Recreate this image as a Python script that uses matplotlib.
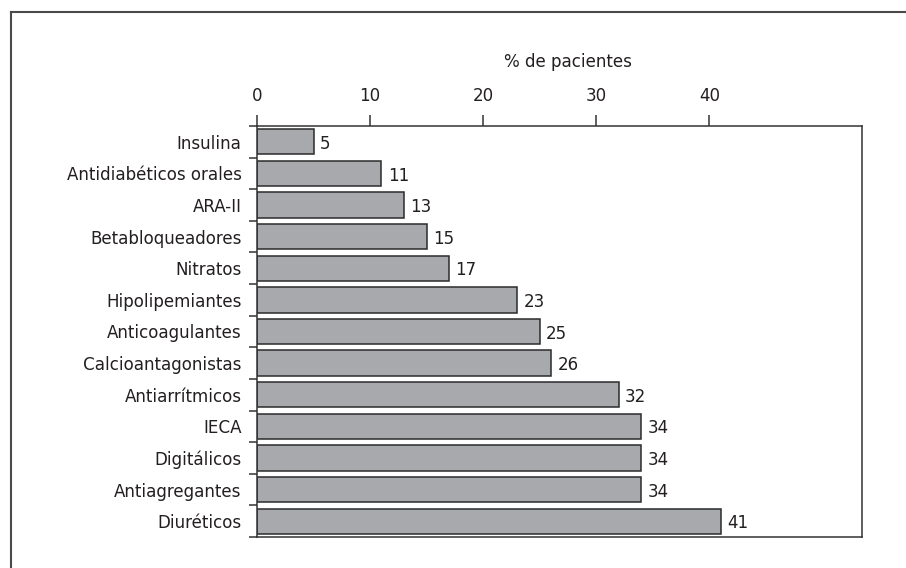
import matplotlib
matplotlib.use("Agg")
import matplotlib.pyplot as plt
from matplotlib.lines import Line2D

# data, top to bottom as in the figure
farmacos = ["Insulina", "Antidiabéticos orales", "ARA-II", "Betabloqueadores",
            "Nitratos", "Hipolipemiantes", "Anticoagulantes", "Calcioantagonistas",
            "Antiarrítmicos", "IECA", "Digitálicos", "Antiagregantes", "Diuréticos"]
porcentaje = [5, 11, 13, 15, 17, 23, 25, 26, 32, 34, 34, 34, 41]
x_ticks = [0, 10, 20, 30, 40]
x_title = "% de pacientes"

# condensed sans, closest to the narrow font in the original
plt.rcParams['font.family'] = ['DejaVu Sans']
plt.rcParams['font.stretch'] = 'condensed'
text_color = '#231f20'

fig = plt.figure(figsize=(9.06, 5.68), dpi=100)
ax = fig.add_axes([257 / 906, 1 - 537 / 568, (862 - 257) / 906, (537 - 126) / 568])

pos = list(range(len(farmacos)))
ax.barh(pos, porcentaje, height=0.8, color='#a7a9ac', edgecolor='#2b2b2b', linewidth=1.1)

for p, v in zip(pos, porcentaje):
    ax.annotate(str(v), (v, p), xytext=(4.5, -1.5), textcoords='offset points',
                ha='left', va='center', fontsize=13.3, color=text_color)

ax.set_xlim(0, 53.5)
ax.set_ylim(len(farmacos) - 0.5, -0.5)

# x axis on top
ax.xaxis.tick_top()
ax.set_xticks(x_ticks)
ax.set_xticklabels([str(t) for t in x_ticks])
ax.tick_params(axis='x', direction='out', length=8, width=1.1, pad=7,
               labelsize=13.3, colors='#333333', labelcolor=text_color)

# category labels at bar centres, tick marks at boundaries
ax.set_yticks(pos)
ax.set_yticklabels(farmacos)
ax.set_yticks([p - 0.5 for p in pos] + [len(farmacos) - 0.5], minor=True)
ax.tick_params(axis='y', which='major', length=0, pad=11, labelsize=13.3,
               labelcolor=text_color)
ax.tick_params(axis='y', which='minor', direction='out', length=6, width=1.1,
               colors='#333333')

for s in ax.spines.values():
    s.set_linewidth(1.1)
    s.set_color('#333333')

fig.text(568 / 906, 1 - 62 / 568, x_title, ha='center', va='center',
         fontsize=13.3, color=text_color)

# outer frame (only left and top edges visible)
fx = 10.5 / 906
fy = 1 - 12 / 568
fig.add_artist(Line2D([fx, fx], [0, fy], transform=fig.transFigure,
                      color='#4a4a4a', linewidth=1.5))
fig.add_artist(Line2D([fx, 1], [fy, fy], transform=fig.transFigure,
                      color='#4a4a4a', linewidth=1.5))

fig.savefig("out.png", dpi=100)
